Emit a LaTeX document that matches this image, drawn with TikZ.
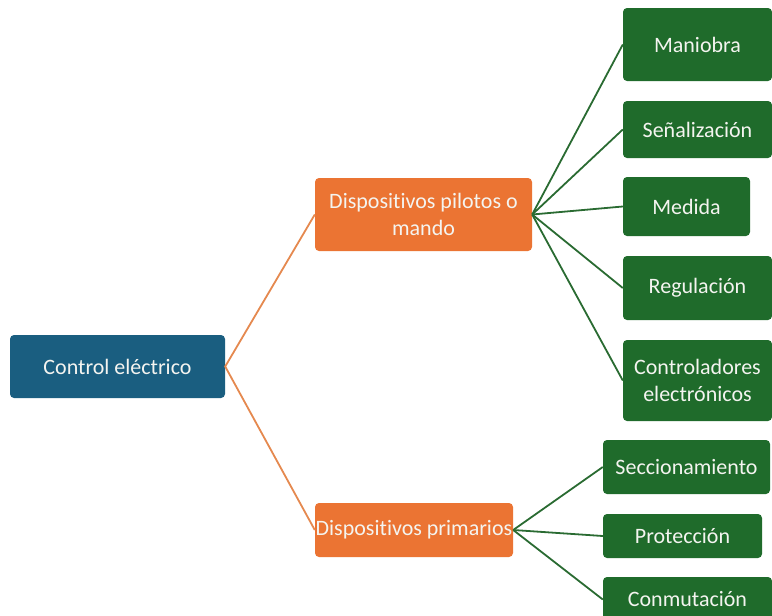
\documentclass[tikz,border=0pt]{standalone}
\usepackage{fontspec}
\setmainfont[Ligatures=NoCommon]{Carlito}
\definecolor{rootblue}{HTML}{1A5E80}
\definecolor{midorange}{HTML}{EB7433}
\definecolor{leafgreen}{HTML}{1F6B2B}
\definecolor{orangeline}{HTML}{E5894F}
\definecolor{greenline}{HTML}{2A6B32}
\definecolor{boxtext}{HTML}{F4F4F0}
\tikzset{
  box/.style={rounded corners=4pt, text=boxtext, align=center, inner sep=0pt,
              font=\fontsize{22}{27}\selectfont},
  rootbox/.style={box, fill=rootblue},
  midbox/.style={box, fill=midorange},
  leafbox/.style={box, fill=leafgreen},
  orangelink/.style={draw=orangeline, line width=1.8pt},
  greenlink/.style={draw=greenline, line width=1.8pt}
}
% box from its corner coordinates: name, x1, y1, x2, y2, style, text
\newcommand{\boxat}[7]{%
  \node[#6, minimum width={(#4-#2)*1pt}, minimum height={(#5-#3)*1pt}]
    (#1) at ({(#2+#4)/2}, {(#3+#5)/2}) {#7};}
\begin{document}
\begin{tikzpicture}[x=1pt, y=-1pt]
\useasboundingbox (0,0) rectangle (772,616);

\boxat{root}{10}{335}{225}{398}{rootbox}{Control eléctrico}

\boxat{pilot}{315}{178}{532}{251}{midbox}{Dispositivos pilotos o\\mando}
\boxat{prim}{315}{503}{513}{557}{midbox}{Dispositivos primarios}

\boxat{man}{623}{8}{772}{81}{leafbox}{Maniobra}
\boxat{sen}{623}{101}{772}{158}{leafbox}{Señalización}
\boxat{med}{623}{177}{750}{236}{leafbox}{Medida}
\boxat{reg}{623}{256}{772}{320}{leafbox}{Regulación}
\boxat{ctl}{623}{340}{772}{421}{leafbox}{Controladores\\electrónicos}

\boxat{sec}{603}{440}{770}{494}{leafbox}{Seccionamiento}
\boxat{pro}{603}{514}{762}{558}{leafbox}{Protección}
\boxat{con}{603}{577}{772}{622}{leafbox}{Conmutación}

\draw[orangelink] (pilot.west) -- (root.east) -- (prim.west);

\foreach \leaf in {man, sen, med, reg, ctl}
  \draw[greenlink] (pilot.east) -- (\leaf.west);
\foreach \leaf in {sec, pro, con}
  \draw[greenlink] (prim.east) -- (\leaf.west);
\end{tikzpicture}
\end{document}
